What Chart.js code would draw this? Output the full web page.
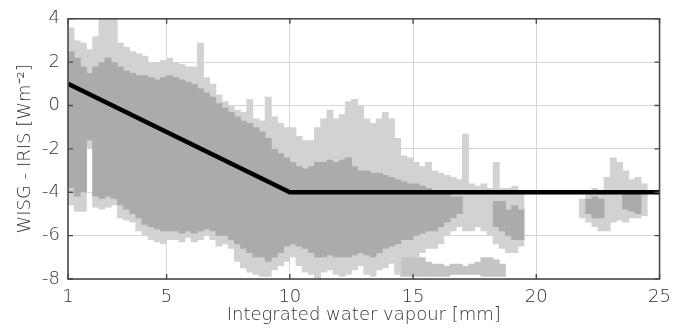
<!DOCTYPE html>
<html>
<head>
<meta charset="utf-8">
<script src="https://cdn.jsdelivr.net/npm/chart.js@4.4.1/dist/chart.umd.min.js"></script>
<style>
  html, body { margin: 0; padding: 0; background: #ffffff; }
  #wrap { width: 679px; height: 329px; }
</style>
</head>
<body>
<div id="wrap"><canvas id="c" width="679" height="329"></canvas></div>
<script>
// ---- data ----
const xTicks = [1, 5, 10, 15, 20, 25];
const yTicks = [-8, -6, -4, -2, 0, 2, 4];

// centres of 0.25 mm bins of the scatter cloud (IWV, mm)
const binCenters = [1.125,1.375,1.625,1.875,2.125,2.375,2.625,2.875,3.125,3.375,3.625,3.875,4.125,4.375,4.625,4.875,5.125,5.375,5.625,5.875,6.125,6.375,6.625,6.875,7.125,7.375,7.625,7.875,8.125,8.375,8.625,8.875,9.125,9.375,9.625,9.875,10.125,10.375,10.625,10.875,11.125,11.375,11.625,11.875,12.125,12.375,12.625,12.875,13.125,13.375,13.625,13.875,14.125,14.375,14.625,14.875,15.125,15.375,15.625,15.875,16.125,16.375,16.625,16.875,17.125,17.375,17.625,17.875,18.125,18.375,18.625,18.875,19.125,19.375,21.875,22.125,22.375,22.625,22.875,23.125,23.375,23.625,23.875,24.125,24.375];

// sparse envelope of the cloud (W m-2)
const outerHigh = [3.6,3.0,2.9,2.6,3.2,4.0,4.0,4.0,2.9,2.7,2.5,2.4,2.3,2.0,2.0,2.1,2.2,2.0,1.9,1.8,1.8,2.9,1.3,1.0,0.5,0.2,0.0,-0.2,-0.3,0.3,-0.6,-0.7,0.4,-0.5,-0.8,-1.0,-1.0,-1.4,-1.6,-1.6,-1.0,-0.6,-0.2,-0.6,-0.4,0.2,0.3,0.0,-0.6,-0.8,-0.6,-0.3,-0.6,-1.5,-2.3,-2.4,-2.6,-2.8,-2.6,-3.0,-3.1,-3.2,-3.3,-3.4,-1.3,-3.6,-3.7,-3.6,-3.8,-2.6,-3.8,-3.8,-3.7,-3.9,-4.3,-4.0,-3.8,-3.9,-3.3,-2.4,-2.6,-3.0,-3.4,-3.3,-3.6];
const outerLow = [-4.6,-4.9,-4.9,-2.0,-4.7,-4.8,-4.7,-4.6,-5.2,-5.3,-5.4,-5.8,-6.0,-6.2,-6.3,-6.4,-6.2,-6.2,-6.3,-6.1,-6.3,-6.2,-6.0,-6.2,-6.5,-6.4,-6.6,-7.2,-7.5,-7.7,-7.8,-7.9,-7.9,-7.6,-7.4,-7.2,-7.0,-7.4,-7.7,-7.8,-8.0,-7.7,-7.6,-7.8,-7.9,-7.8,-7.6,-7.4,-7.8,-7.9,-7.6,-7.5,-7.3,-7.8,-7.0,-7.0,-7.0,-6.8,-6.6,-6.6,-6.4,-6.0,-5.8,-5.6,-5.8,-5.8,-5.6,-5.8,-6.0,-6.4,-6.6,-6.8,-6.8,-6.5,-5.2,-5.4,-5.6,-5.8,-5.8,-5.4,-5.3,-5.4,-5.2,-5.2,-5.1];

// dense core of the cloud (null = no dense core)
const coreHigh = [2.5,2.2,1.8,1.5,1.8,2.0,2.2,2.0,1.8,1.6,1.5,1.4,1.4,1.3,1.2,1.3,1.4,1.3,1.2,1.1,1.0,0.8,0.6,0.4,0.1,-0.1,-0.3,-0.5,-0.7,-0.8,-1.0,-1.2,-1.5,-2.0,-2.2,-2.4,-2.6,-2.8,-2.9,-2.8,-2.6,-2.6,-2.5,-2.6,-2.5,-2.4,-2.8,-3.0,-3.0,-3.1,-3.1,-3.2,-3.3,-3.4,-3.5,-3.6,-3.6,-3.7,-3.8,-3.9,-3.9,-4.0,-4.2,-4.2,null,null,null,null,null,-4.4,-4.4,-4.8,-4.6,-4.8,null,-4.3,-4.2,-4.3,null,null,null,-4.0,-4.0,-3.9,null];
const coreLow = [-3.8,-4.2,-4.0,-1.6,-4.2,-4.3,-4.2,-4.3,-4.6,-4.8,-5.0,-5.2,-5.5,-5.6,-5.7,-5.8,-5.8,-5.8,-5.9,-5.8,-5.9,-5.8,-5.7,-5.8,-6.0,-6.0,-6.2,-6.4,-6.6,-6.8,-7.0,-7.0,-7.2,-7.0,-6.8,-6.5,-6.4,-6.5,-6.6,-6.8,-7.0,-7.0,-6.9,-7.0,-7.0,-7.0,-6.9,-6.8,-6.9,-7.0,-6.8,-6.6,-6.5,-6.4,-6.2,-6.2,-6.0,-5.9,-5.8,-5.8,-5.6,-5.4,-5.2,-5.0,null,null,null,null,null,-5.6,-5.8,-6.0,-6.2,-6.2,null,-5.0,-5.2,-5.2,null,null,null,-4.8,-4.9,-5.0,null];

// separate low band of points near the bottom (15-19 mm)
const bandCenters = [14.625,14.875,15.125,15.375,15.625,15.875,16.125,16.375,16.625,16.875,17.125,17.375,17.625,17.875,18.125,18.375,18.625];
const bandHigh = [-6.8,-6.8,-7.0,-7.0,-7.2,-7.3,-7.3,-7.4,-7.3,-7.3,-7.4,-7.3,-7.2,-7.0,-7.0,-7.1,-7.3];
const bandLow = [-7.9,-7.9,-7.9,-7.9,-7.9,-7.9,-7.9,-7.9,-7.8,-7.8,-7.8,-7.8,-7.8,-7.9,-7.9,-7.9,-7.9];

// fitted piecewise line
const fitX = [1, 10, 25];
const fitY = [1, -4, -4];

// ---- build datasets ----
function ranges(xs, lo, hi) {
  const out = [];
  xs.forEach((x, i) => {
    if (lo[i] !== null && hi[i] !== null) out.push({ x: x, y: [lo[i], hi[i]] });
  });
  return out;
}

const textColor = '#333333';
const fontFamily = '"DejaVu Sans", "Liberation Sans", sans-serif';

const framePlugin = {
  id: 'frame',
  afterDatasetsDraw(chart) {
    const ctx = chart.ctx;
    const a = chart.chartArea;
    const xs = chart.scales.x, ys = chart.scales.y;
    ctx.save();
    ctx.strokeStyle = '#4a4a4a';
    ctx.lineWidth = 1.6;
    ctx.strokeRect(a.left, a.top, a.right - a.left, a.bottom - a.top);
    ctx.lineWidth = 1.4;
    const L = 5;
    ctx.beginPath();
    xTicks.forEach(v => {
      const px = xs.getPixelForValue(v);
      ctx.moveTo(px, a.top); ctx.lineTo(px, a.top + L);
      ctx.moveTo(px, a.bottom); ctx.lineTo(px, a.bottom - L);
    });
    yTicks.forEach(v => {
      const py = ys.getPixelForValue(v);
      ctx.moveTo(a.left, py); ctx.lineTo(a.left + L, py);
      ctx.moveTo(a.right, py); ctx.lineTo(a.right - L, py);
    });
    ctx.stroke();
    ctx.restore();
  }
};

const barCommon = { borderWidth: 0, borderSkipped: false, grouped: false, barPercentage: 1.12, categoryPercentage: 1.0 };

new Chart(document.getElementById('c'), {
  type: 'bar',
  data: {
    datasets: [
      {
        type: 'line',
        label: 'fit',
        data: fitX.map((x, i) => ({ x: x, y: fitY[i] })),
        borderColor: '#000000',
        borderWidth: 4.5,
        pointRadius: 0,
        tension: 0,
        fill: false,
        order: 0
      },
      Object.assign({ label: 'dense', data: ranges(binCenters, coreLow, coreHigh), backgroundColor: '#ababab', order: 2 }, barCommon),
      Object.assign({ label: 'sparse', data: ranges(binCenters, outerLow, outerHigh), backgroundColor: '#d2d2d2', order: 3 }, barCommon),
      Object.assign({ label: 'band', data: ranges(bandCenters, bandLow, bandHigh), backgroundColor: '#c4c4c4', order: 3 }, barCommon)
    ]
  },
  options: {
    responsive: false,
    animation: false,
    layout: { padding: { left: 0, right: 19, top: 13, bottom: 0 } },
    plugins: { legend: { display: false }, tooltip: { enabled: false } },
    scales: {
      x: {
        type: 'linear',
        offset: false,
        min: 1, max: 25,
        afterBuildTicks: s => { s.ticks = xTicks.map(v => ({ value: v })); },
        afterFit: s => { s.height = 50; },
        grid: { color: '#d6d6d6', lineWidth: 1, drawTicks: false, offset: false },
        border: { display: false },
        ticks: { color: textColor, font: { family: fontFamily, size: 18, weight: 200 }, padding: 8, maxRotation: 0, autoSkip: false },
        title: { display: true, text: 'Integrated water vapour [mm]', color: textColor,
                 font: { family: fontFamily, size: 18, weight: 200 }, padding: { top: 0, bottom: 3 } }
      },
      y: {
        min: -8, max: 4,
        afterBuildTicks: s => { s.ticks = yTicks.map(v => ({ value: v })); },
        afterFit: s => { s.width = 68; },
        grid: { color: '#d6d6d6', lineWidth: 1, drawTicks: false },
        border: { display: false },
        ticks: { color: textColor, font: { family: fontFamily, size: 18, weight: 200 }, padding: 8 },
        title: { display: true, text: 'WISG - IRIS [Wm⁻²]', color: textColor,
                 font: { family: fontFamily, size: 18, weight: 200 }, padding: { top: 15, bottom: 0 } }
      }
    }
  },
  plugins: [framePlugin]
});
</script>
</body>
</html>
